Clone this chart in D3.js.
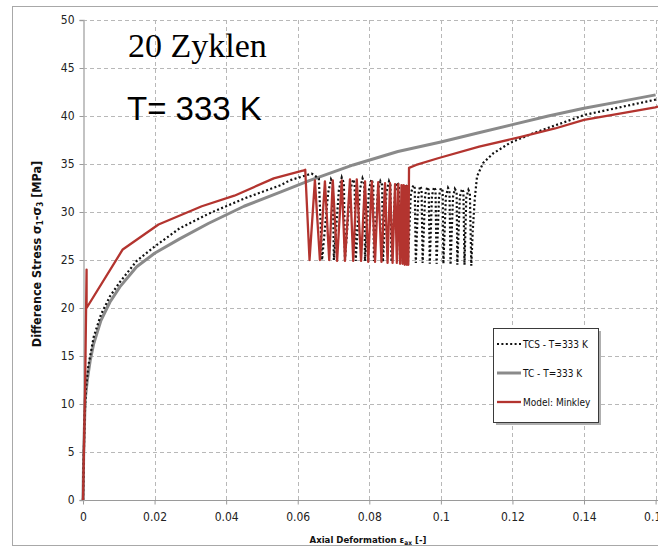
<!DOCTYPE html>
<html>
<head>
<meta charset="utf-8">
<script src="https://cdn.jsdelivr.net/npm/d3@7"></script>
<style>
  html, body { margin: 0; padding: 0; background: #fff; overflow: hidden; }
  svg { display: block; }
</style>
</head>
<body>
<svg id="chart" width="658" height="550"></svg>
<script>
// ---------- DATA ----------
const xTicks = [0, 0.02, 0.04, 0.06, 0.08, 0.1, 0.12, 0.14, 0.16];
const xTickLabels = ["0", "0.02", "0.04", "0.06", "0.08", "0.1", "0.12", "0.14", "0.16"];
const yTicks = [0, 5, 10, 15, 20, 25, 30, 35, 40, 45, 50];
const yTickLabels = ["0", "5", "10", "15", "20", "25", "30", "35", "40", "45", "50"];

const seriesNames = ["TCS - T=333 K", "TC - T=333 K", "Model: Minkley"];

// TC - T=333 K (grey), [strain, stress]
const tcData = [
  [0, 0], [0.0002, 5], [0.0006, 10.4], [0.0012, 12.5], [0.002, 14.5], [0.003, 16.3],
  [0.005, 18.7], [0.0075, 20.6], [0.0103, 22.2], [0.015, 24.3], [0.02, 25.7],
  [0.027, 27.2], [0.035, 28.8], [0.045, 30.6], [0.0553, 32.1], [0.0634, 33.3],
  [0.0755, 34.9], [0.088, 36.3], [0.1, 37.3], [0.11, 38.2], [0.12, 39.1],
  [0.13, 40.0], [0.14, 40.8], [0.15, 41.5], [0.16, 42.2]
];

// TCS - T=333 K (dotted black), monotonic loading, 20 cycles, reloading
const tcsData = [
  [0, 0], [0.0004, 8], [0.0008, 11.5], [0.0015, 14], [0.003, 17], [0.005, 19.3],
  [0.0075, 21.2], [0.0103, 22.7], [0.015, 24.9], [0.02, 26.4], [0.027, 28.3],
  [0.035, 29.8], [0.045, 31.4], [0.0553, 32.8], [0.0578, 33.3], [0.0639, 34.0], [0.0659, 33.5],
  [0.0668, 25.0], [0.0685, 32.0], [0.0693, 33.4], [0.0698, 33.0],
  [0.0701, 25.0], [0.0715, 32.3], [0.0723, 33.6], [0.0729, 33.0],
  [0.0732, 25.0], [0.0746, 32.2], [0.0755, 33.4], [0.0759, 33.0],
  [0.0762, 24.9], [0.0774, 32.4], [0.0781, 33.5], [0.0786, 33.0],
  [0.0788, 24.9], [0.0799, 32.3], [0.0806, 33.4], [0.0811, 32.9],
  [0.0813, 24.9], [0.0824, 32.2], [0.0831, 33.2], [0.0836, 32.8],
  [0.0838, 24.8], [0.0848, 32.1], [0.0855, 33.2], [0.0859, 32.8],
  [0.0862, 24.8], [0.0872, 32.1], [0.0879, 33.1], [0.0883, 32.7],
  [0.0886, 24.8], [0.0894, 32.0], [0.0901, 32.9], [0.0905, 32.6],
  [0.0908, 24.7], [0.0916, 31.9], [0.0923, 32.8], [0.0927, 32.5],
  [0.0930, 24.7], [0.0937, 31.8], [0.0942, 32.7], [0.0946, 32.4],
  [0.0949, 24.7], [0.0956, 31.8], [0.0962, 32.6], [0.0966, 32.3],
  [0.0969, 24.6], [0.0975, 31.7], [0.0981, 32.6], [0.0985, 32.3],
  [0.0988, 24.6], [0.0995, 31.7], [0.1000, 32.5], [0.1005, 32.2],
  [0.1007, 24.6], [0.1014, 31.6], [0.1020, 32.5], [0.1024, 32.2],
  [0.1027, 24.5], [0.1034, 31.6], [0.1039, 32.4], [0.1044, 32.1],
  [0.1046, 24.5], [0.1053, 31.6], [0.1059, 32.4], [0.1063, 32.1],
  [0.1066, 24.5], [0.1071, 31.5], [0.1077, 32.3], [0.1081, 32.0],
  [0.1085, 24.4],
  [0.1089, 28.0], [0.1095, 31.5], [0.1101, 33.7], [0.1118, 35.1], [0.1146, 36.1],
  [0.1193, 37.2], [0.1258, 38.2], [0.1333, 39.2], [0.1400, 40.1], [0.1599, 41.7], [0.161, 41.8]
];

// Model: Minkley (red)
const modelData = [
  [0, 0], [0.0006, 12], [0.0010, 24], [0.0010, 20], [0.0111, 26.1], [0.0211, 28.7],
  [0.0332, 30.6], [0.0423, 31.7], [0.0533, 33.5], [0.0614, 34.3], [0.0621, 34.4],
  [0.0633, 25.0], [0.0648, 33.3], [0.0662, 25.0], [0.0676, 33.2], [0.0688, 25.0],
  [0.0698, 33.3], [0.0710, 24.9], [0.0723, 33.3], [0.0732, 24.9], [0.0746, 33.4],
  [0.0755, 24.9], [0.0765, 33.4], [0.0777, 24.9], [0.0788, 33.2], [0.0797, 24.8],
  [0.0807, 33.2], [0.0816, 24.8], [0.0825, 33.1], [0.0834, 24.8], [0.0844, 33.0],
  [0.0851, 24.7], [0.0858, 33.0], [0.0865, 24.7], [0.0872, 32.9], [0.0877, 24.7],
  [0.0881, 32.9], [0.0886, 24.6], [0.0890, 32.8], [0.0893, 24.6], [0.0896, 32.8],
  [0.0899, 24.5], [0.0902, 32.7], [0.0905, 24.5], [0.0907, 32.7], [0.0909, 24.5],
  [0.0911, 34.6], [0.0931, 34.9], [0.0992, 35.6], [0.1107, 36.8], [0.1221, 37.8],
  [0.1319, 38.7], [0.1400, 39.6], [0.1599, 40.9], [0.161, 41.0]
];

// ---------- CHART ----------
const svg = d3.select("#chart");
const FONT = "'Liberation Sans Narrow', 'DejaVu Sans Condensed', 'Liberation Sans', sans-serif";

const x = d3.scaleLinear().domain([0, 0.16]).range([83, 655.6]);
const y = d3.scaleLinear().domain([0, 50]).range([500, 20]);

// outer frame
svg.append("rect").attr("x", 12.5).attr("y", 6.5).attr("width", 680).attr("height", 539)
  .attr("fill", "#fff").attr("stroke", "#a8a8a8").attr("stroke-width", 1);

// grid
const grid = svg.append("g");
grid.selectAll("line.h").data(yTicks.filter(d => d > 0)).join("line")
  .attr("x1", x(0)).attr("x2", 660).attr("y1", d => y(d) + 0.5).attr("y2", d => y(d) + 0.5)
  .attr("stroke", "#b8b8b8").attr("stroke-width", 1).attr("stroke-dasharray", "4,3");
grid.selectAll("line.v").data(xTicks.filter(d => d > 0)).join("line")
  .attr("x1", d => Math.round(x(d)) + 0.5).attr("x2", d => Math.round(x(d)) + 0.5)
  .attr("y1", y(50)).attr("y2", y(0))
  .attr("stroke", "#b8b8b8").attr("stroke-width", 1).attr("stroke-dasharray", "4,3");

// axes
const xAxis = d3.axisBottom(x).tickValues(xTicks).tickSize(4).tickPadding(8)
  .tickFormat((d, i) => xTickLabels[i]);
const yAxis = d3.axisLeft(y).tickValues(yTicks).tickSize(4).tickPadding(5)
  .tickFormat((d, i) => yTickLabels[i]);

const gx = svg.append("g").attr("transform", `translate(0,${y(0) + 0.5})`).call(xAxis);
gx.select(".domain").attr("stroke", "#9a9a9a").attr("d", `M${x(0)},0H660`);
gx.selectAll(".tick line").attr("stroke", "#9a9a9a");
gx.selectAll("text").attr("font-family", FONT).attr("font-size", 12).attr("fill", "#222");

const gy = svg.append("g").attr("transform", `translate(${Math.round(x(0)) + 0.5},0)`).call(yAxis);
gy.select(".domain").attr("stroke", "#b0b0b0").attr("stroke-width", 1.5);
gy.selectAll(".tick line").attr("stroke", "#9a9a9a");
gy.selectAll("text").attr("font-family", FONT).attr("font-size", 12).attr("fill", "#222");

// clip
svg.append("clipPath").attr("id", "plotclip").append("rect")
  .attr("x", x(0) - 2).attr("y", y(50)).attr("width", 660 - x(0)).attr("height", y(0) - y(50) + 2);

const line = d3.line().x(d => x(d[0])).y(d => y(d[1]));
const plot = svg.append("g").attr("clip-path", "url(#plotclip)");

plot.append("path").datum(tcData).attr("d", line).attr("fill", "none")
  .attr("stroke", "#8a8a8a").attr("stroke-width", 3).attr("stroke-linejoin", "round");
plot.append("path").datum(tcsData).attr("d", line).attr("fill", "none")
  .attr("stroke", "#111").attr("stroke-width", 2.2).attr("stroke-dasharray", "2,2.4");
plot.append("path").datum(modelData).attr("d", line).attr("fill", "none")
  .attr("stroke", "#b3342f").attr("stroke-width", 2.3).attr("stroke-linejoin", "round");

// annotations
svg.append("text").attr("x", 128).attr("y", 57)
  .attr("font-family", "'Liberation Serif', 'Times New Roman', serif").attr("font-size", 34)
  .attr("fill", "#000").text("20 Zyklen");
svg.append("text").attr("x", 127).attr("y", 120)
  .attr("font-family", "'Liberation Sans', Arial, sans-serif").attr("font-size", 33)
  .attr("fill", "#000").text("T= 333 K");

// axis titles
const xt = svg.append("text").attr("x", 368).attr("y", 543).attr("text-anchor", "middle")
  .attr("font-family", FONT).attr("font-size", 9.5).attr("font-weight", "bold").attr("fill", "#111");
xt.append("tspan").text("Axial Deformation \u03b5");
xt.append("tspan").attr("font-size", 6.5).attr("dy", 2).text("ax");
xt.append("tspan").attr("dy", -2).text(" [-]");

const yt = svg.append("text").attr("transform", "translate(41,254) rotate(-90)").attr("text-anchor", "middle")
  .attr("font-family", FONT).attr("font-size", 12.5).attr("font-weight", "bold").attr("fill", "#111");
yt.append("tspan").text("Difference Stress  \u03c3");
yt.append("tspan").attr("font-size", 8).attr("dy", 2).text("1");
yt.append("tspan").attr("dy", -2).text("-\u03c3");
yt.append("tspan").attr("font-size", 8).attr("dy", 2).text("3");
yt.append("tspan").attr("dy", -2).text(" [MPa]");

// legend
const lg = svg.append("g");
lg.append("rect").attr("x", 496).attr("y", 331).attr("width", 105).attr("height", 94)
  .attr("fill", "#7a7a7a").attr("opacity", 0.6);
lg.append("rect").attr("x", 493.5).attr("y", 328.5).attr("width", 105).attr("height", 94)
  .attr("fill", "#fff").attr("stroke", "#3a3a3a").attr("stroke-width", 1);
const legendStyles = [
  { stroke: "#111", width: 2.2, dash: "2,2.4" },
  { stroke: "#8a8a8a", width: 3, dash: null },
  { stroke: "#b3342f", width: 2.3, dash: null }
];
const legendY = [344, 373, 402];
seriesNames.forEach((name, i) => {
  lg.append("line").attr("x1", 497).attr("x2", 521).attr("y1", legendY[i]).attr("y2", legendY[i])
    .attr("stroke", legendStyles[i].stroke).attr("stroke-width", legendStyles[i].width)
    .attr("stroke-dasharray", legendStyles[i].dash);
  lg.append("text").attr("x", 523).attr("y", legendY[i] + 4)
    .attr("font-family", FONT).attr("font-size", 10).attr("fill", "#111").text(name);
});
</script>
</body>
</html>
